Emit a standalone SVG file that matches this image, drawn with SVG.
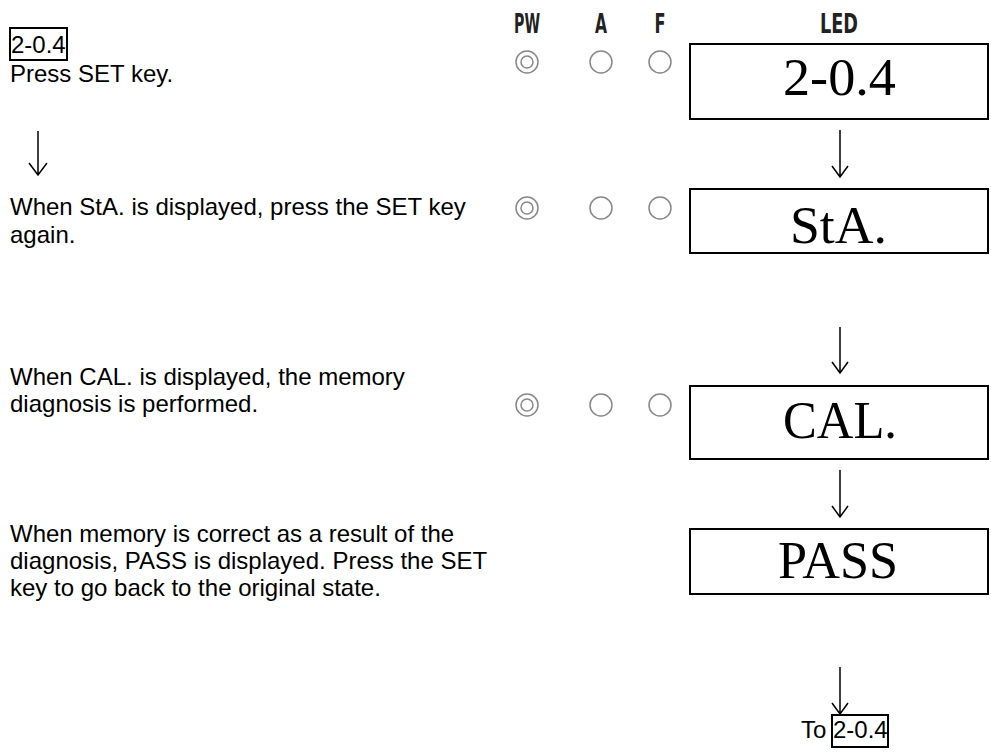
<svg xmlns="http://www.w3.org/2000/svg" width="991" height="753" viewBox="0 0 991 753">
<defs>
<style>
.t{font-family:"Liberation Sans",Arial,sans-serif;font-size:24px;fill:#000}
.h{font-family:"DejaVu Sans","Liberation Sans",sans-serif;font-size:26px;font-weight:bold;fill:#222;text-anchor:middle}
.led{font-family:"Liberation Serif","Times New Roman",serif;font-size:53px;fill:#000}
.box{fill:#fff;stroke:#000;stroke-width:2}
.ind{fill:none;stroke:#888;stroke-width:1.5}
.con{stroke:#000;stroke-width:1.5;fill:none}
</style>
</defs>
<rect width="991" height="753" fill="#fff"/>
<g id="steps">
<rect x="10" y="28" width="57" height="32" fill="none" stroke="#000" stroke-width="2"/>
<text class="t" x="11" y="53">2-0.4</text>
<text class="t" x="10" y="82">Press SET key.</text>
<text class="t" x="10" y="215">When StA. is displayed, press the SET key</text>
<text class="t" x="10" y="243">again.</text>
<text class="t" x="10" y="385">When CAL. is displayed, the memory</text>
<text class="t" x="10" y="412">diagnosis is performed.</text>
<text class="t" x="10" y="542">When memory is correct as a result of the</text>
<text class="t" x="10" y="569">diagnosis, PASS is displayed. Press the SET</text>
<text class="t" x="10" y="596">key to go back to the original state.</text>
</g>
<g id="headers">
<text class="h" x="527" y="33" textLength="26" lengthAdjust="spacingAndGlyphs">PW</text>
<text class="h" x="601" y="33" textLength="12" lengthAdjust="spacingAndGlyphs">A</text>
<text class="h" x="660" y="33" textLength="11" lengthAdjust="spacingAndGlyphs">F</text>
<text class="h" x="839" y="33" textLength="38" lengthAdjust="spacingAndGlyphs">LED</text>
</g>
<g id="indicators">
<circle class="ind" cx="527" cy="62" r="11"/><circle class="ind" cx="527" cy="62" r="6"/>
<circle class="ind" cx="601" cy="62" r="11"/><circle class="ind" cx="660" cy="62" r="11"/>
<circle class="ind" cx="527" cy="208" r="11"/><circle class="ind" cx="527" cy="208" r="6"/>
<circle class="ind" cx="601" cy="208" r="11"/><circle class="ind" cx="660" cy="208" r="11"/>
<circle class="ind" cx="527" cy="405" r="11"/><circle class="ind" cx="527" cy="405" r="6"/>
<circle class="ind" cx="601" cy="405" r="11"/><circle class="ind" cx="660" cy="405" r="11"/>
</g>
<g id="led1"><rect class="box" x="690" y="44" width="298" height="75"/><text class="led" x="783" y="95" font-size="49" textLength="113" lengthAdjust="spacingAndGlyphs">2-0.4</text></g>
<g id="led2"><rect class="box" x="690" y="189" width="298" height="64"/><text class="led" x="790" y="243" textLength="97" lengthAdjust="spacingAndGlyphs">StA.</text></g>
<g id="led3"><rect class="box" x="690" y="386" width="298" height="73"/><text class="led" x="783" y="438" textLength="114" lengthAdjust="spacingAndGlyphs">CAL.</text></g>
<g id="led4"><rect class="box" x="690" y="529" width="298" height="65"/><text class="led" x="778" y="578" textLength="120" lengthAdjust="spacingAndGlyphs">PASS</text></g>
<g id="end">
<text class="t" x="801" y="738">To</text>
<rect x="832" y="715" width="56" height="32" fill="none" stroke="#000" stroke-width="2"/>
<text class="t" x="833" y="738">2-0.4</text>
</g>
<g id="connectors">
<path class="con" d="M38 131V174M29 163L38 175L47 163" stroke-width="3"/>
<path class="con" d="M840 130V176M832 166L840 177L848 166"/>
<path class="con" d="M840 327V372M832 362L840 373L848 362"/>
<path class="con" d="M840 470V516M832 506L840 517L848 506"/>
<path class="con" d="M840 667V713M832 703L840 714L848 703"/>
</g>
</svg>
